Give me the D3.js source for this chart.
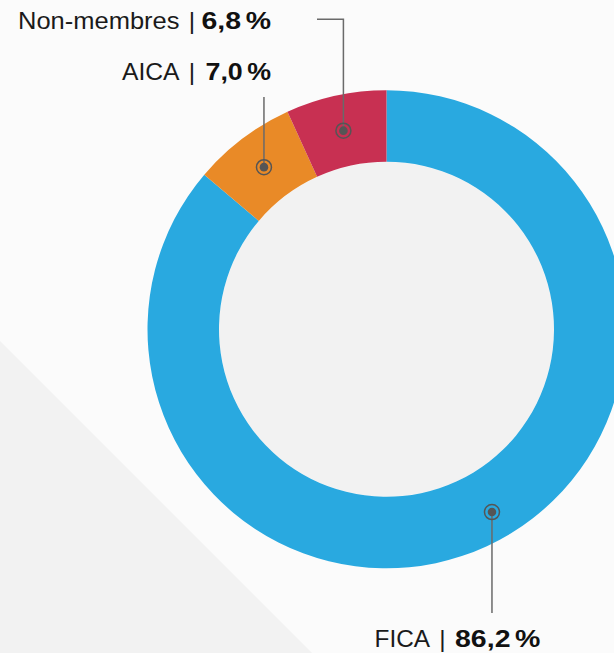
<!DOCTYPE html>
<html>
<head>
<meta charset="utf-8">
<script src="https://cdn.jsdelivr.net/npm/d3@7"></script>
<style>
  html, body { margin: 0; padding: 0; background: #fbfbfb; }
  svg { display: block; }
</style>
</head>
<body>
<svg id="chart" width="614" height="653"></svg>
<script>
const categories = ["FICA", "AICA", "Non-membres"];
const values = [86.2, 7.0, 6.8];
const valueNumbers = ["86,2", "7,0", "6,8"];
const valueUnit = "%";
const colors = ["#29a9e0", "#e98a27", "#c83052"];

const W = 614, H = 653;
const cx = 386.5, cy = 329.3, R = 239, r = 167.5;

const svg = d3.select("#chart");

// background with diagonal band
svg.append("rect").attr("width", W).attr("height", H).attr("fill", "#fbfbfb");
svg.append("path")
  .attr("d", d3.line()([[0, 341], [312, 653], [0, 653]]) + "Z")
  .attr("fill", "#f2f2f2");

const g = svg.append("g").attr("transform", `translate(${cx},${cy})`);
g.append("circle").attr("r", r).attr("fill", "#f2f2f2");

const data = categories.map((c, i) => ({ name: c, value: values[i], num: valueNumbers[i], color: colors[i] }));
const pie = d3.pie().value(d => d.value).sort(null).startAngle(0).endAngle(2 * Math.PI);
const arcs = pie(data);
const arc = d3.arc().innerRadius(r).outerRadius(R);

g.selectAll("path.slice").data(arcs).enter().append("path")
  .attr("class", "slice")
  .attr("d", arc)
  .attr("fill", d => d.data.color);

// label / marker layout
const layout = {
  "FICA":        { t: 0.4834, rad: 211,         leader: p => [[p[0], p[1]], [p[0], 613]],
                   pipeX: 442.5, valueEnd: 540.5, y: 647, nameLen: 55.5, valLen: 85.5 },
  "AICA":        { t: 0.5,    rad: (R + r) / 2, leader: p => [[p[0], p[1]], [p[0], 97]],
                   pipeX: 192,   valueEnd: 271,   y: 79.5, nameLen: 57.5, valLen: 65.5 },
  "Non-membres": { t: 0.5,    rad: (R + r) / 2, leader: p => [[p[0], p[1]], [p[0], 19.3], [317, 19.3]],
                   pipeX: 192,   valueEnd: 271,   y: 29, nameLen: 161.5, valLen: 69.5 }
};

const lightFont = "'Liberation Sans', Arial, sans-serif";
const boldFont = "'Liberation Sans', Arial, sans-serif";
const fs = 24.5;

arcs.forEach(a => {
  const L = layout[a.data.name];
  const ang = a.startAngle + L.t * (a.endAngle - a.startAngle);
  const pr = d3.pointRadial(ang, L.rad);
  const p = [cx + pr[0], cy + pr[1]];

  svg.append("path")
    .attr("d", d3.line()(L.leader(p)))
    .attr("fill", "none")
    .attr("stroke", "#6a6a6a")
    .attr("stroke-width", 1.5);
  svg.append("circle").attr("cx", p[0]).attr("cy", p[1]).attr("r", 7.5)
    .attr("fill", "none").attr("stroke", "#555").attr("stroke-width", 1.5);
  svg.append("circle").attr("cx", p[0]).attr("cy", p[1]).attr("r", 4.3)
    .attr("fill", "#555");

  // name
  svg.append("text")
    .attr("x", L.pipeX - 12.5).attr("y", L.y)
    .attr("text-anchor", "end")
    .attr("font-family", lightFont).attr("font-weight", 400)
    .attr("font-size", fs).attr("fill", "#1a1a1a")
    .attr("textLength", L.nameLen).attr("lengthAdjust", "spacingAndGlyphs")
    .text(a.data.name);
  // separator
  svg.append("text")
    .attr("x", L.pipeX).attr("y", L.y)
    .attr("text-anchor", "middle")
    .attr("font-family", lightFont).attr("font-weight", 400)
    .attr("font-size", fs).attr("fill", "#1a1a1a")
    .text("|");
  // value
  const v = svg.append("text")
    .attr("x", L.valueEnd).attr("y", L.y)
    .attr("text-anchor", "end")
    .attr("font-family", boldFont).attr("font-weight", 700)
    .attr("font-size", fs).attr("fill", "#111")
    .attr("textLength", L.valLen).attr("lengthAdjust", "spacingAndGlyphs");
  v.append("tspan").text(a.data.num);
  v.append("tspan").attr("dx", 4).text(valueUnit);
});
</script>
</body>
</html>
